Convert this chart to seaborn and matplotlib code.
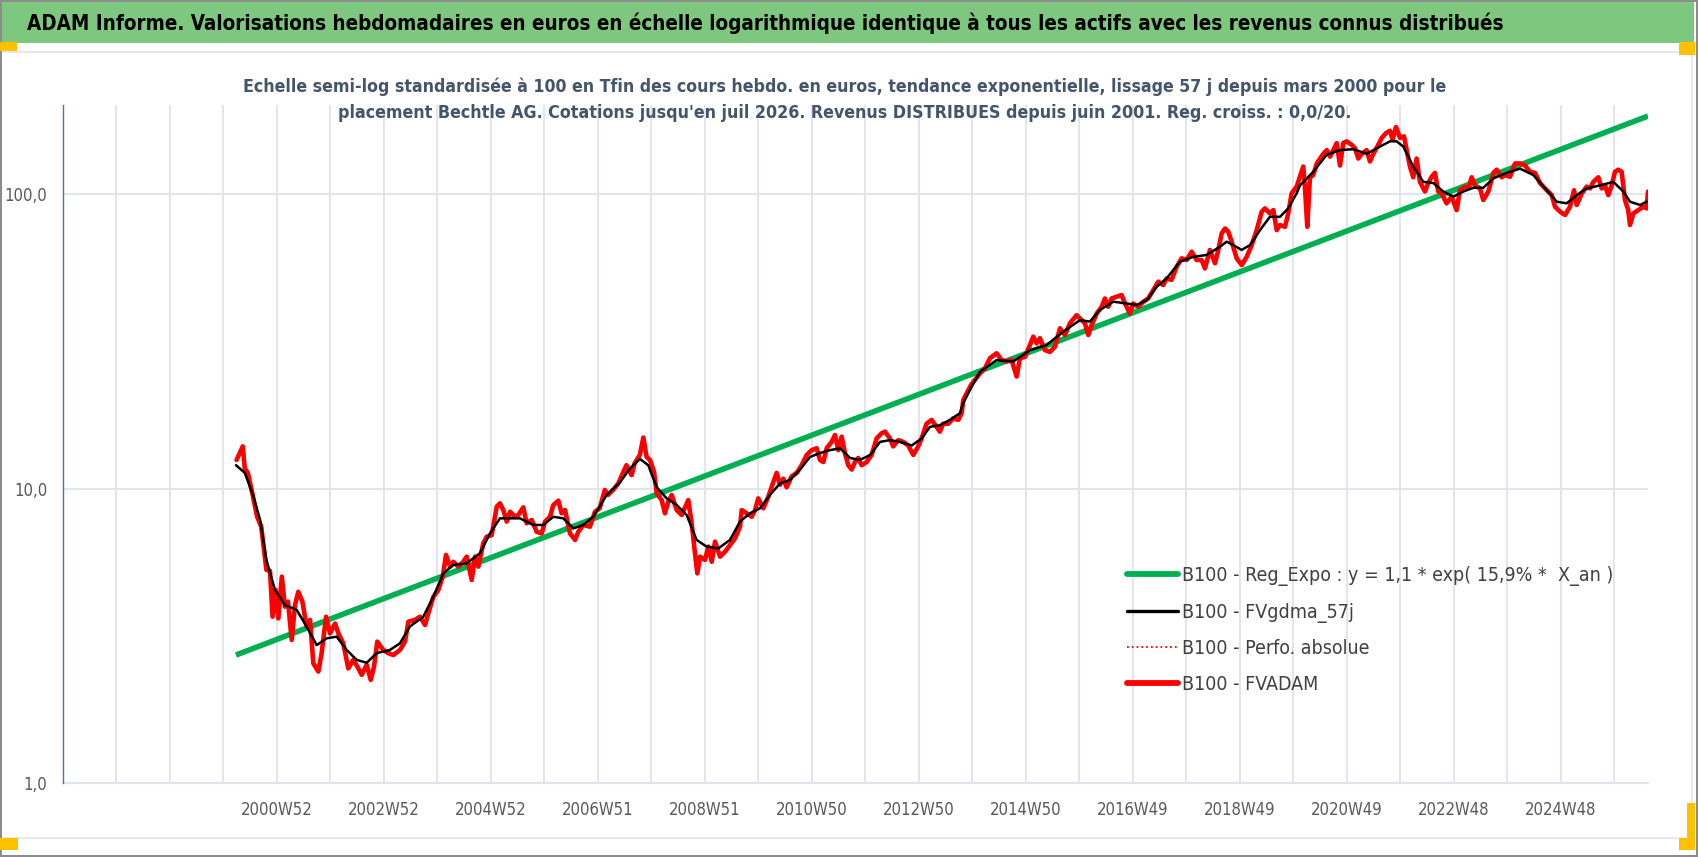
import numpy as np
import pandas as pd
import seaborn as sns
import matplotlib.pyplot as plt
from matplotlib.patches import Rectangle
from matplotlib.lines import Line2D
from matplotlib.ticker import NullLocator

# ---- data (x = week index on the category axis, 0 = 1996W52) ----
fvadam_week = [169, 175, 177, 180, 185, 189, 193, 198, 201.5, 204, 207, 209.6, 213, 216, 219, 222.6,
               225.8, 229, 233, 237, 240.4, 243.6, 248.5, 251.7, 256, 259.8, 264.7, 268, 272.7, 277.6,
               282.5, 287.4, 290.6, 295.5, 299.4, 302.6, 305.8, 311.6, 316.5, 321.3, 327.9, 332.7, 336,
               342.4, 347.3, 352.2, 355.4, 360.3, 365.1, 369.4, 372.6, 376.5, 379.7, 384.5, 389.4, 392.7,
               397.6, 400.8, 404, 408.8, 412.1, 417, 421.9, 425, 428.3, 431.6, 434.8, 439.6, 442.9, 447.7,
               451, 455.9, 460.7, 465.6, 468.8, 473.7, 476.9, 481.8, 485, 488.3, 493.1, 498, 501.2, 506.1,
               512.5, 517.4, 522, 527, 530, 535, 540, 545, 548, 553, 556, 561, 564.4, 567.6, 570.9, 574.8,
               577.4, 582.2, 585.4, 588.7, 592, 596.8, 601.7, 608.1, 611.4, 614.6, 616.9, 619.5, 624.3,
               627.6, 630.9, 634.1, 639, 643.8, 648.7, 653.5, 658.4, 660, 664.9, 669.7, 673, 676.1, 681,
               685.9, 690.7, 694, 697.2, 700.4, 703.7, 708.6, 713.5, 718.3, 723.2, 728, 732.9, 736.1,
               739.4, 742.6, 747.5, 750.7, 753.9, 757.2, 760.4, 763.6, 766.9, 770.1, 773.3, 776.6, 781.5,
               786.3, 791.2, 796, 799.3, 804.1, 807.3, 812.2, 817, 821.9, 826.8, 831.6, 834.9, 839.7,
               844.6, 849.4, 852.6, 855.9, 860.8, 865.6, 870.5, 873.8, 875.4, 883, 891.6, 896.5, 901.3,
               907.8, 912.7, 917.6, 922.4, 927.3, 930.5, 935.4, 940.2, 943.4, 946.7, 949.9, 954.8, 959.6,
               964.5, 969.4, 974.2, 979.1, 985.6, 990.5, 993.7, 996.9, 1000.2, 1005.1, 1009.9, 1013.1,
               1016.3, 1019.6, 1024.5, 1029.3, 1032.6, 1037.4, 1040.6, 1045.5, 1050.4, 1055.2, 1060.1,
               1065, 1069.8, 1073.1, 1077.9, 1082.8, 1087.7, 1092.5, 1097.4, 1102.3, 1107.1, 1110.3,
               1115.2, 1120.1, 1123.3, 1126.6, 1129.8, 1133, 1136.3, 1141.2, 1146.1, 1150.9, 1155.8,
               1160.6, 1165.5, 1168.7, 1173.5, 1176.8, 1180.1, 1183.3, 1188.1, 1191.3, 1194.6, 1199.5,
               1202.7, 1205.9, 1207.5, 1209.8, 1212.4, 1215.6, 1219, 1222.2, 1225.4, 1228.7, 1231.9,
               1235.1, 1238.4, 1241.6, 1244.8, 1248.1, 1252.9, 1256.2, 1259.4, 1262.7, 1267.5, 1270.7,
               1274, 1277.9, 1282.1, 1286.3, 1290.2, 1292.8, 1296, 1299.9, 1303.8, 1306.4, 1309.6,
               1312.8, 1316.1, 1319.3, 1324.2, 1327.4, 1330.7, 1333.9, 1337.1, 1340.4, 1345.2, 1350.1,
               1355, 1358.2, 1363.1, 1366.3, 1369.6, 1372.8, 1377.7, 1380.9, 1385.8, 1390.7, 1393.9,
               1398.8, 1402, 1406.9, 1411.7, 1416.6, 1421.5, 1426.3, 1431.2, 1436, 1442.6, 1447.4,
               1450.6, 1455.5, 1460.4, 1465.2, 1469.1, 1471.7, 1476.6, 1481.4, 1484.7, 1487.9, 1492.7,
               1496, 1499.2, 1502.4, 1505.7, 1508.9, 1512.1, 1515.4, 1518.6, 1521.8, 1523.5, 1526.7,
               1531.6, 1536.4, 1539.7, 1541]
fvadam_val = [12.5, 13.9, 11.7, 11.3, 9.38, 8.02, 7.42, 5.29, 5.25, 3.67, 4.52, 3.62, 5.02, 3.97, 4.13, 3.06,
              4.02, 4.46, 4.13, 3.40, 3.58, 2.55, 2.39, 2.76, 3.67, 3.22, 3.48, 3.22, 2.98, 2.45,
              2.62, 2.45, 2.33, 2.52, 2.24, 2.48, 3.02, 2.83, 2.76, 2.72, 2.83, 3.02, 3.53,
              3.58, 3.67, 3.44, 3.77, 4.29, 4.52, 5.02, 5.95, 5.43, 5.64, 5.43, 5.64, 5.87,
              4.89, 5.87, 5.43, 6.51, 6.86, 6.95, 8.68, 8.91, 8.45, 7.72, 8.34, 8.02, 8.13, 8.63,
              7.62, 7.82, 7.13, 7.04, 7.72, 8.02, 8.79, 9.09, 8.24, 8.45, 7.04, 6.69, 7.13, 7.52,
              7.42, 8.34, 8.57, 9.89, 9.51, 9.89, 10.4, 11.4, 12.0, 11.1, 12.2, 13.0, 14.9, 12.8, 12.5, 11.4,
              9.63, 9.14, 8.24, 9.02, 9.51, 8.45, 8.13, 9.14, 7.62, 6.03, 5.15, 5.87, 5.72,
              6.35, 5.64, 6.60, 5.87, 6.10, 6.43, 6.77, 7.42, 8.45, 8.24, 8.02, 8.45, 9.26, 8.57,
              9.38, 10.5, 11.3, 10.3, 10.8, 10.1, 11.0, 11.3, 12.0, 13.0, 13.5, 13.7, 12.5,
              12.3, 13.7, 14.4, 15.2, 13.5, 15.0, 13.2, 12.0, 11.6, 12.3, 12.7, 12.0, 12.3,
              13.0, 14.8, 15.4, 15.6, 14.8, 13.9, 14.6, 14.4, 14.0, 13.0, 13.9, 14.8, 16.6,
              17.1, 16.2, 15.6, 16.6, 16.6, 17.3, 17.1, 18.0, 20.0, 22.5, 24.6, 25.6, 27.7,
              28.8, 27.3, 27.0, 27.3, 24.0, 27.7, 28.0, 30.7, 32.8, 31.1, 32.4, 29.5, 29.1,
              30.3, 35.0, 33.2, 36.4, 38.8, 37.3, 36.4, 33.2, 35.9, 39.3, 41.4, 44.2,
              41.4, 44.2, 44.8, 45.4, 42.5, 39.3, 42.5, 41.4, 43.1, 44.2, 47.2,
              50.4, 49.1, 51.7, 51.1, 56.6, 60.5, 59.7, 63.7, 59.7, 59.7, 55.9,
              64.6, 58.2, 64.6, 73.5, 76.4, 74.5, 68.9, 60.5, 57.4, 61.2, 67.1,
              75.4, 87.1, 89.4, 85.9, 88.2, 75.4, 78.5, 77.4, 85.9, 100.6, 106,
              114.5, 124, 106, 77.4, 114, 116, 127, 132, 137, 141, 134,
              141, 149, 125, 149, 151, 147, 143, 132, 137, 141, 129,
              137, 145, 155, 161, 164, 153, 169, 155, 157, 141, 124,
              114, 132, 110, 102, 109, 114.5, 118, 102, 100.5, 93, 98,
              88.2, 103, 106, 104.5, 114, 107, 104.5, 95.4, 102, 118, 121,
              114, 116, 114.5, 127, 127, 125, 119, 118, 109, 103, 99.2,
              90.6, 87.1, 84.9, 90.6, 103, 91.8, 100.5, 106, 104.5, 110, 114,
              104.5, 107, 99.2, 107, 119, 121, 119, 95.4, 88.2, 78.5, 85.9,
              88.2, 90.6, 89.4, 102]

fvgdma_week = [168.5, 177, 185, 192, 198, 206.4, 216, 227.5, 237, 246.9, 256.6, 266.3, 276, 285.7, 295.5,
               305.2, 318.1, 327.8, 337.5, 350.5, 360.2, 370, 379.7, 392.7, 405.6, 415.3, 425, 434.8,
               444.5, 457.4, 467.2, 476.9, 486.6, 496.3, 506, 515.7, 528.8, 541.7, 551.4, 561.1, 569.2,
               577.4, 587.1, 596.8, 606.5, 616.2, 625.9, 637.3, 648.6, 658.4, 668.1, 677.8, 687.5, 697.2,
               707, 716.7, 726.4, 736.1, 745.8, 755.6, 765.3, 775, 784.8, 794.5, 804.2, 813.9, 825.3,
               835, 843, 852.6, 862.3, 872, 875.4, 883, 891.6, 907.8, 924, 940.2, 956.4, 972.6, 988.8,
               998.5, 1008.2, 1021.2, 1034.1, 1043.8, 1053.6, 1063.3, 1073, 1086, 1098.9, 1111.9, 1124.9,
               1131.4, 1137.8, 1146, 1154.1, 1163.8, 1173.5, 1183.3, 1191.3, 1199.5, 1202.7, 1215.6,
               1228.7, 1241.6, 1254.5, 1267.5, 1280.5, 1290.2, 1296.7, 1303.1, 1312.8, 1322.6, 1332.3,
               1342, 1351.8, 1361.5, 1371.2, 1380.9, 1390.7, 1403.6, 1416.6, 1429.5, 1442.6, 1452.3,
               1462, 1471.7, 1481.4, 1494.4, 1507.3, 1517, 1523.5, 1533.3, 1539.7]
fvgdma_val = [12.0, 11.3, 9.5, 7.8, 5.72, 4.52, 4.02, 3.87, 3.40, 2.94, 3.10, 3.14, 2.83, 2.62, 2.56,
              2.76, 2.83, 2.98, 3.40, 3.67, 4.29, 5.15, 5.50, 5.57, 6.03, 7.04, 7.92, 7.92,
              7.92, 7.52, 7.52, 8.02, 7.92, 7.32, 7.52, 8.02, 9.51, 10.5, 11.7, 12.6, 12.0,
              10.1, 9.26, 8.79, 8.13, 6.69, 6.35, 6.26, 6.69, 7.72, 8.24, 8.57, 9.51, 10.4,
              10.7, 11.6, 12.8, 13.2, 13.5, 13.7, 12.7, 12.5, 13.0, 14.4, 14.6, 14.4, 14.0,
              14.8, 16.2, 16.4, 17.1, 18.0, 19.5, 22.0, 24.9, 27.3, 27.0, 29.5, 30.7, 34.1, 37.3,
              36.9, 40.4, 43.1, 42.5, 42.0, 43.6, 48.4, 51.7, 58.9, 61.2, 62.1, 66.2,
              68.9, 67.1, 64.6, 67.1, 75.4, 83.7, 83.7, 89.4, 100.6, 107, 119,
              136, 141, 142, 137, 145, 151, 151, 145, 124, 110, 109,
              102, 98, 102, 105, 105, 113, 118, 122, 116, 103, 94.2,
              93, 99.2, 104.5, 107, 110, 102, 94.2, 91.8, 94.2]

# exponential trend: straight on the log scale, start and end
reg_week = [168.4, 1541]
reg_val = [2.72, 184]

week_labels = ['2000W52', '2002W52', '2004W52', '2006W51', '2008W51', '2010W50', '2012W50',
               '2014W50', '2016W49', '2018W49', '2020W49', '2022W48', '2024W48']
y_ticks = [1, 10, 100]
y_labels = ['1,0', '10,0', '100,0']

legend_labels = ['B100 - Reg_Expo : y = 1,1 * exp( 15,9% *  X_an )', 'B100 - FVgdma_57j',
                 'B100 - Perfo. absolue', 'B100 - FVADAM']

title = ("ADAM Informe. Valorisations hebdomadaires en euros en échelle logarithmique identique "
         "à tous les actifs avec les revenus connus distribués")
subtitle1 = ("Echelle semi-log standardisée à 100 en Tfin des cours hebdo. en euros, tendance "
             "exponentielle, lissage 57 j depuis mars 2000 pour le")
subtitle2 = ("placement Bechtle AG. Cotations jusqu'en juil 2026. Revenus DISTRIBUES depuis juin 2001. "
             "Reg. croiss. : 0,0/20.")

df_red = pd.DataFrame({'semaine': fvadam_week, 'valeur': fvadam_val})
df_black = pd.DataFrame({'semaine': fvgdma_week, 'valeur': fvgdma_val})
df_green = pd.DataFrame({'semaine': reg_week, 'valeur': reg_val})

# ---- figure ----
sns.set_style('white')
plt.rcParams['font.family'] = ['DejaVu Sans']
plt.rcParams['font.stretch'] = 'condensed'

W, H = 1698, 857
fig = plt.figure(figsize=(W / 100, H / 100), dpi=100)


def px_rect(x0, y0, x1, y1, color, z=-5):
    fig.add_artist(Rectangle((x0 / W, 1 - y1 / H), (x1 - x0) / W, (y1 - y0) / H,
                             transform=fig.transFigure, facecolor=color, edgecolor='none', zorder=z))


# frame, title band, selection marks
px_rect(0, 0, W, H, '#8c8c8c', -10)
px_rect(2, 2, W - 2, H - 2, 'white', -9)
px_rect(2, 2, W - 4, 43, '#7ec77f')
px_rect(2, 51, 1692, 53, '#e6e8ec')
px_rect(1691, 51, 1693, 839, '#e6e8ec')
px_rect(2, 837, 1692, 839, '#e6e8ec')
for r in [(0, 42, 17, 51), (1679, 42, 1695, 55), (0, 838, 18, 850),
          (1687, 803, 1695, 850), (1679, 838, 1695, 850)]:
    px_rect(*r, '#ffc000', 5)

t_title = fig.text(27 / W, 1 - 23 / H, title, fontsize=17.5, fontweight='bold', color='black',
                   ha='left', va='center')
t_sub1 = fig.text(845 / W, 1 - 87 / H, subtitle1, fontsize=14.5, fontweight='bold', color='#44546a',
                  ha='center', va='center')
t_sub2 = fig.text(845 / W, 1 - 113 / H, subtitle2, fontsize=14.5, fontweight='bold', color='#44546a',
                  ha='center', va='center')

# shrink the long texts to the widths they have in the reference
renderer = fig.canvas.get_renderer()
for t, target in [(t_title, 1480), (t_sub1, 1194), (t_sub2, 1008)]:
    bb = t.get_window_extent(renderer)
    t.set_fontsize(t.get_fontsize() * target / bb.width)

ax = fig.add_axes([62.7 / W, 1 - 783 / H, (1648 - 62.7) / W, (783 - 105.4) / H])
ax.patch.set_alpha(0)

sns.lineplot(data=df_green, x='semaine', y='valeur', color='#00b050', lw=4, ax=ax,
             estimator=None, solid_capstyle='butt')
sns.lineplot(data=df_red, x='semaine', y='valeur', color='#ff0000', lw=3.3, ax=ax, estimator=None)
sns.lineplot(data=df_red, x='semaine', y='valeur', color='#ff0000', lw=1, ls=':', ax=ax,
             estimator=None)
sns.lineplot(data=df_black, x='semaine', y='valeur', color='black', lw=1.8, ax=ax, estimator=None)

grid_c = '#dfe3ea'
ax.set_yscale('log')
ax.set_ylim(1, 200)
ax.set_xlim(0, 1541)
ax.set_yticks(y_ticks)
ax.set_yticklabels(y_labels)
ax.yaxis.set_minor_locator(NullLocator())
ticks = np.arange(0, 30) * 52
ax.set_xticks(ticks)
tick_text = [''] * len(ticks)
for i, lab in enumerate(week_labels):
    tick_text[4 + 2 * i] = lab
ax.set_xticklabels(tick_text)
ax.grid(True, which='major', color=grid_c, lw=1.3)
ax.set_axisbelow(True)
ax.axhline(1, color=grid_c, lw=1.6, clip_on=False, zorder=0.5)
ax.set_xlabel('')
ax.set_ylabel('')
for s in ['top', 'right', 'bottom']:
    ax.spines[s].set_visible(False)
ax.spines['left'].set_color('#4472c4')
ax.spines['left'].set_linewidth(1.0)
ax.tick_params(axis='x', length=4, width=1.3, color=grid_c, direction='out', pad=9,
               labelsize=12, labelcolor='#595959')
ax.tick_params(axis='y', length=0, pad=11, labelsize=12, labelcolor='#595959')

handles = [Line2D([], [], color='#00b050', lw=4.2),
           Line2D([], [], color='black', lw=2.4),
           Line2D([], [], color='#ff0000', lw=1.3, ls=':'),
           Line2D([], [], color='#ff0000', lw=4.2)]
fig.legend(handles, legend_labels, loc='upper left', bbox_to_anchor=(1127 / W, 1 - 566 / H),
           frameon=False, fontsize=14, labelcolor='#404040', handlelength=2.6,
           handletextpad=0.25, labelspacing=0.85, borderpad=0, borderaxespad=0)

fig.savefig('out.png', dpi=100)
